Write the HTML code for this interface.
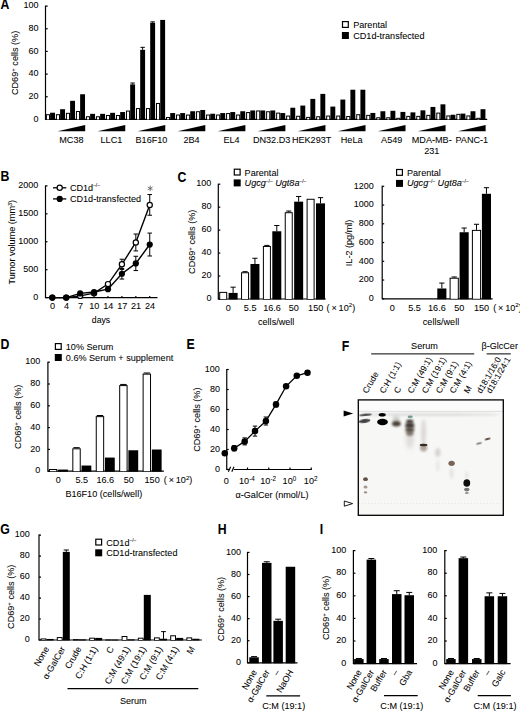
<!DOCTYPE html>
<html><head><meta charset="utf-8"><style>
html,body{margin:0;padding:0;background:#fff;width:520px;height:711px;overflow:hidden}
svg{display:block}
text{font-family:"Liberation Sans",sans-serif;fill:#000;stroke:#000;stroke-width:0.06px}
</style></head><body>
<svg width="520" height="711" viewBox="0 0 520 711">
<rect width="520" height="711" fill="#fff"/>
<text x="0.6" y="9.3" font-size="13.2" font-weight="bold" transform="translate(0.6 9.3) scale(0.93 1.1) translate(-0.6 -9.3)">A</text>
<line x1="45.5" y1="119.4" x2="487.2" y2="119.4" stroke="#000" stroke-width="1.2"/>
<line x1="45.5" y1="5.6" x2="45.5" y2="119.9" stroke="#000" stroke-width="1.2"/>
<line x1="45.5" y1="119.4" x2="47.7" y2="119.4" stroke="#000" stroke-width="1.2"/>
<text x="38.5" y="121.67" font-size="9" text-anchor="end">0</text>
<line x1="45.5" y1="96.74" x2="47.7" y2="96.74" stroke="#000" stroke-width="1.2"/>
<text x="38.5" y="99.01" font-size="9" text-anchor="end">20</text>
<line x1="45.5" y1="74.08" x2="47.7" y2="74.08" stroke="#000" stroke-width="1.2"/>
<text x="38.5" y="76.35" font-size="9" text-anchor="end">40</text>
<line x1="45.5" y1="51.42" x2="47.7" y2="51.42" stroke="#000" stroke-width="1.2"/>
<text x="38.5" y="53.69" font-size="9" text-anchor="end">60</text>
<line x1="45.5" y1="28.76" x2="47.7" y2="28.76" stroke="#000" stroke-width="1.2"/>
<text x="38.5" y="31.03" font-size="9" text-anchor="end">80</text>
<line x1="45.5" y1="6.1" x2="47.7" y2="6.1" stroke="#000" stroke-width="1.2"/>
<text x="38.5" y="8.37" font-size="9" text-anchor="end">100</text>
<rect x="45.9" y="114.19" width="4.1" height="5.71" fill="#000"/>
<rect x="46.9" y="115.19" width="2.1" height="4.21" fill="#fff"/>
<rect x="50.1" y="112.72" width="4.9" height="7.18" fill="#000"/>
<rect x="55.91" y="114.19" width="4.1" height="5.71" fill="#000"/>
<rect x="56.91" y="115.19" width="2.1" height="4.21" fill="#fff"/>
<rect x="60.11" y="109.2" width="4.9" height="10.7" fill="#000"/>
<rect x="65.92" y="112.83" width="4.1" height="7.07" fill="#000"/>
<rect x="66.92" y="113.83" width="2.1" height="5.57" fill="#fff"/>
<rect x="70.12" y="100.82" width="4.9" height="19.08" fill="#000"/>
<rect x="75.93" y="111.02" width="4.1" height="8.88" fill="#000"/>
<rect x="76.93" y="112.02" width="2.1" height="7.38" fill="#fff"/>
<rect x="80.13" y="94.25" width="4.9" height="25.65" fill="#000"/>
<polygon points="57.5,131.3 85.2,125 85.2,131.3" fill="#000"/>
<text x="71.4" y="143.4" font-size="9.1" text-anchor="middle">MC38</text>
<rect x="85.94" y="116.23" width="4.1" height="3.67" fill="#000"/>
<rect x="86.94" y="117.23" width="2.1" height="2.17" fill="#fff"/>
<rect x="90.14" y="113.85" width="4.9" height="6.05" fill="#000"/>
<rect x="95.95" y="116.23" width="4.1" height="3.67" fill="#000"/>
<rect x="96.95" y="117.23" width="2.1" height="2.17" fill="#fff"/>
<rect x="100.15" y="113.85" width="4.9" height="6.05" fill="#000"/>
<rect x="105.96" y="114.98" width="4.1" height="4.92" fill="#000"/>
<rect x="106.96" y="115.98" width="2.1" height="3.42" fill="#fff"/>
<rect x="110.16" y="112.83" width="4.9" height="7.07" fill="#000"/>
<rect x="115.97" y="114.98" width="4.1" height="4.92" fill="#000"/>
<rect x="116.97" y="115.98" width="2.1" height="3.42" fill="#fff"/>
<rect x="120.17" y="112.04" width="4.9" height="7.86" fill="#000"/>
<polygon points="97.54,131.3 125.24,125 125.24,131.3" fill="#000"/>
<text x="111.44" y="143.4" font-size="9.1" text-anchor="middle">LLC1</text>
<rect x="125.98" y="110.56" width="4.1" height="9.34" fill="#000"/>
<rect x="126.98" y="111.56" width="2.1" height="7.84" fill="#fff"/>
<rect x="130.18" y="84.39" width="4.9" height="35.51" fill="#000"/>
<line x1="132.63" y1="83.03" x2="132.63" y2="84.39" stroke="#000" stroke-width="1"/>
<line x1="130.43" y1="83.03" x2="134.83" y2="83.03" stroke="#000" stroke-width="1"/>
<rect x="135.99" y="108.07" width="4.1" height="11.83" fill="#000"/>
<rect x="136.99" y="109.07" width="2.1" height="10.33" fill="#fff"/>
<rect x="140.19" y="49.83" width="4.9" height="70.07" fill="#000"/>
<line x1="142.64" y1="47.34" x2="142.64" y2="49.83" stroke="#000" stroke-width="1"/>
<line x1="140.44" y1="47.34" x2="144.84" y2="47.34" stroke="#000" stroke-width="1"/>
<rect x="146" y="108.07" width="4.1" height="11.83" fill="#000"/>
<rect x="147" y="109.07" width="2.1" height="10.33" fill="#fff"/>
<rect x="150.2" y="22.76" width="4.9" height="97.14" fill="#000"/>
<line x1="152.65" y1="21.85" x2="152.65" y2="22.76" stroke="#000" stroke-width="1"/>
<line x1="150.45" y1="21.85" x2="154.85" y2="21.85" stroke="#000" stroke-width="1"/>
<rect x="156.01" y="102.97" width="4.1" height="16.93" fill="#000"/>
<rect x="157.01" y="103.97" width="2.1" height="15.43" fill="#fff"/>
<rect x="160.21" y="19.92" width="4.9" height="99.98" fill="#000"/>
<polygon points="137.58,131.3 165.28,125 165.28,131.3" fill="#000"/>
<text x="151.48" y="143.4" font-size="9.1" text-anchor="middle">B16F10</text>
<rect x="166.02" y="117.02" width="4.1" height="2.88" fill="#000"/>
<rect x="167.02" y="118.02" width="2.1" height="1.38" fill="#fff"/>
<rect x="170.22" y="113.06" width="4.9" height="6.84" fill="#000"/>
<rect x="176.03" y="114.53" width="4.1" height="5.37" fill="#000"/>
<rect x="177.03" y="115.53" width="2.1" height="3.87" fill="#fff"/>
<rect x="180.23" y="113.06" width="4.9" height="6.84" fill="#000"/>
<rect x="186.04" y="114.53" width="4.1" height="5.37" fill="#000"/>
<rect x="187.04" y="115.53" width="2.1" height="3.87" fill="#fff"/>
<rect x="190.24" y="111.24" width="4.9" height="8.66" fill="#000"/>
<rect x="196.05" y="111.24" width="4.1" height="8.66" fill="#000"/>
<rect x="197.05" y="112.24" width="2.1" height="7.16" fill="#fff"/>
<rect x="200.25" y="110" width="4.9" height="9.9" fill="#000"/>
<polygon points="177.62,131.3 205.32,125 205.32,131.3" fill="#000"/>
<text x="191.52" y="143.4" font-size="9.1" text-anchor="middle">2B4</text>
<rect x="206.06" y="114.53" width="4.1" height="5.37" fill="#000"/>
<rect x="207.06" y="115.53" width="2.1" height="3.87" fill="#fff"/>
<rect x="210.26" y="113.73" width="4.9" height="6.17" fill="#000"/>
<rect x="216.07" y="114.53" width="4.1" height="5.37" fill="#000"/>
<rect x="217.07" y="115.53" width="2.1" height="3.87" fill="#fff"/>
<rect x="220.27" y="113.06" width="4.9" height="6.84" fill="#000"/>
<rect x="226.08" y="113.06" width="4.1" height="6.84" fill="#000"/>
<rect x="227.08" y="114.06" width="2.1" height="5.34" fill="#fff"/>
<rect x="230.28" y="112.04" width="4.9" height="7.86" fill="#000"/>
<rect x="236.09" y="114.53" width="4.1" height="5.37" fill="#000"/>
<rect x="237.09" y="115.53" width="2.1" height="3.87" fill="#fff"/>
<rect x="240.29" y="111.24" width="4.9" height="8.66" fill="#000"/>
<polygon points="217.66,131.3 245.36,125 245.36,131.3" fill="#000"/>
<text x="231.56" y="143.4" font-size="9.1" text-anchor="middle">EL4</text>
<rect x="246.1" y="112.04" width="4.1" height="7.86" fill="#000"/>
<rect x="247.1" y="113.04" width="2.1" height="6.36" fill="#fff"/>
<rect x="250.3" y="110.45" width="4.9" height="9.45" fill="#000"/>
<rect x="256.11" y="110.45" width="4.1" height="9.45" fill="#000"/>
<rect x="257.11" y="111.45" width="2.1" height="7.95" fill="#fff"/>
<rect x="260.31" y="110.45" width="4.9" height="9.45" fill="#000"/>
<rect x="266.12" y="111.24" width="4.1" height="8.66" fill="#000"/>
<rect x="267.12" y="112.24" width="2.1" height="7.16" fill="#fff"/>
<rect x="270.32" y="110.45" width="4.9" height="9.45" fill="#000"/>
<rect x="276.13" y="112.6" width="4.1" height="7.3" fill="#000"/>
<rect x="277.13" y="113.6" width="2.1" height="5.8" fill="#fff"/>
<rect x="280.33" y="113.06" width="4.9" height="6.84" fill="#000"/>
<polygon points="257.7,131.3 285.4,125 285.4,131.3" fill="#000"/>
<text x="271.6" y="143.4" font-size="9.1" text-anchor="middle">DN32.D3</text>
<rect x="286.14" y="115.55" width="4.1" height="4.35" fill="#000"/>
<rect x="287.14" y="116.55" width="2.1" height="2.85" fill="#fff"/>
<rect x="290.34" y="107.73" width="4.9" height="12.17" fill="#000"/>
<rect x="296.15" y="115.77" width="4.1" height="4.13" fill="#000"/>
<rect x="297.15" y="116.77" width="2.1" height="2.63" fill="#fff"/>
<rect x="300.35" y="105.58" width="4.9" height="14.32" fill="#000"/>
<rect x="306.16" y="116.91" width="4.1" height="2.99" fill="#000"/>
<rect x="307.16" y="117.91" width="2.1" height="1.49" fill="#fff"/>
<rect x="310.36" y="98.89" width="4.9" height="21.01" fill="#000"/>
<rect x="316.17" y="116.23" width="4.1" height="3.67" fill="#000"/>
<rect x="317.17" y="117.23" width="2.1" height="2.17" fill="#fff"/>
<rect x="320.37" y="93.91" width="4.9" height="25.99" fill="#000"/>
<polygon points="297.74,131.3 325.44,125 325.44,131.3" fill="#000"/>
<text x="311.64" y="143.4" font-size="9.1" text-anchor="middle">HEK293T</text>
<rect x="326.18" y="115.55" width="4.1" height="4.35" fill="#000"/>
<rect x="327.18" y="116.55" width="2.1" height="2.85" fill="#fff"/>
<rect x="330.38" y="106.6" width="4.9" height="13.3" fill="#000"/>
<rect x="336.19" y="115.55" width="4.1" height="4.35" fill="#000"/>
<rect x="337.19" y="116.55" width="2.1" height="2.85" fill="#fff"/>
<rect x="340.39" y="99.57" width="4.9" height="20.33" fill="#000"/>
<rect x="346.2" y="116" width="4.1" height="3.9" fill="#000"/>
<rect x="347.2" y="117" width="2.1" height="2.4" fill="#fff"/>
<rect x="350.4" y="89.72" width="4.9" height="30.18" fill="#000"/>
<rect x="356.21" y="114.19" width="4.1" height="5.71" fill="#000"/>
<rect x="357.21" y="115.19" width="2.1" height="4.21" fill="#fff"/>
<rect x="360.41" y="89.72" width="4.9" height="30.18" fill="#000"/>
<polygon points="337.78,131.3 365.48,125 365.48,131.3" fill="#000"/>
<text x="351.68" y="143.4" font-size="9.1" text-anchor="middle">HeLa</text>
<rect x="366.22" y="114.87" width="4.1" height="5.03" fill="#000"/>
<rect x="367.22" y="115.87" width="2.1" height="3.53" fill="#fff"/>
<rect x="370.42" y="112.94" width="4.9" height="6.96" fill="#000"/>
<rect x="376.23" y="117.25" width="4.1" height="2.65" fill="#000"/>
<rect x="377.23" y="118.25" width="2.1" height="1.15" fill="#fff"/>
<rect x="380.43" y="111.24" width="4.9" height="8.66" fill="#000"/>
<rect x="386.24" y="117.25" width="4.1" height="2.65" fill="#000"/>
<rect x="387.24" y="118.25" width="2.1" height="1.15" fill="#fff"/>
<rect x="390.44" y="110.79" width="4.9" height="9.11" fill="#000"/>
<rect x="396.25" y="117.81" width="4.1" height="2.09" fill="#000"/>
<rect x="397.25" y="118.81" width="2.1" height="0.59" fill="#fff"/>
<rect x="400.45" y="111.92" width="4.9" height="7.98" fill="#000"/>
<polygon points="377.82,131.3 405.52,125 405.52,131.3" fill="#000"/>
<text x="391.72" y="143.4" font-size="9.1" text-anchor="middle">A549</text>
<rect x="406.26" y="115.89" width="4.1" height="4.01" fill="#000"/>
<rect x="407.26" y="116.89" width="2.1" height="2.51" fill="#fff"/>
<rect x="410.46" y="112.38" width="4.9" height="7.52" fill="#000"/>
<rect x="416.27" y="115.89" width="4.1" height="4.01" fill="#000"/>
<rect x="417.27" y="116.89" width="2.1" height="2.51" fill="#fff"/>
<rect x="420.47" y="110.34" width="4.9" height="9.56" fill="#000"/>
<rect x="426.28" y="114.87" width="4.1" height="5.03" fill="#000"/>
<rect x="427.28" y="115.87" width="2.1" height="3.53" fill="#fff"/>
<rect x="430.48" y="106.94" width="4.9" height="12.96" fill="#000"/>
<rect x="436.29" y="112.6" width="4.1" height="7.3" fill="#000"/>
<rect x="437.29" y="113.6" width="2.1" height="5.8" fill="#fff"/>
<rect x="440.49" y="104.33" width="4.9" height="15.57" fill="#000"/>
<polygon points="417.86,131.3 445.56,125 445.56,131.3" fill="#000"/>
<text x="431.76" y="143.4" font-size="9.1" text-anchor="middle">MDA-MB-</text>
<text x="431.76" y="153.6" font-size="9.1" text-anchor="middle">231</text>
<rect x="446.3" y="115.43" width="4.1" height="4.47" fill="#000"/>
<rect x="447.3" y="116.43" width="2.1" height="2.97" fill="#fff"/>
<rect x="450.5" y="114.75" width="4.9" height="5.15" fill="#000"/>
<rect x="456.31" y="113.85" width="4.1" height="6.05" fill="#000"/>
<rect x="457.31" y="114.85" width="2.1" height="4.55" fill="#fff"/>
<rect x="460.51" y="113.62" width="4.9" height="6.28" fill="#000"/>
<rect x="466.32" y="115.43" width="4.1" height="4.47" fill="#000"/>
<rect x="467.32" y="116.43" width="2.1" height="2.97" fill="#fff"/>
<rect x="470.52" y="111.24" width="4.9" height="8.66" fill="#000"/>
<rect x="476.33" y="117.81" width="4.1" height="2.09" fill="#000"/>
<rect x="477.33" y="118.81" width="2.1" height="0.59" fill="#fff"/>
<rect x="480.53" y="109.2" width="4.9" height="10.7" fill="#000"/>
<polygon points="457.9,131.3 485.6,125 485.6,131.3" fill="#000"/>
<text x="471.8" y="143.4" font-size="9.1" text-anchor="middle">PANC-1</text>
<rect x="341.9" y="21" width="7" height="7" fill="#000"/>
<rect x="343.1" y="22.2" width="4.6" height="4.6" fill="#fff"/>
<text x="353.2" y="28" font-size="9.1">Parental</text>
<rect x="341.9" y="32" width="7" height="7" fill="#000"/>
<text x="353.2" y="38.9" font-size="9.1">CD1d-transfected</text>
<text x="18" y="62.9" font-size="9.1" text-anchor="middle" transform="rotate(-90 18 62.9)">CD69<tspan font-size="6.2" dy="-3.2">+</tspan><tspan dy="3.2"> cells (%)</tspan></text>
<text x="0.5" y="181.2" font-size="13.2" font-weight="bold" transform="translate(0.5 181.2) scale(0.93 1.1) translate(-0.5 -181.2)">B</text>
<line x1="45.5" y1="297.6" x2="157.5" y2="297.6" stroke="#000" stroke-width="1.2"/>
<line x1="45.5" y1="185.4" x2="45.5" y2="298.1" stroke="#000" stroke-width="1.2"/>
<line x1="45.5" y1="297.6" x2="47.5" y2="297.6" stroke="#000" stroke-width="1.2"/>
<text x="38.3" y="299.87" font-size="9" text-anchor="end">0</text>
<line x1="45.5" y1="269.68" x2="47.5" y2="269.68" stroke="#000" stroke-width="1.2"/>
<text x="38.3" y="271.95" font-size="9" text-anchor="end">500</text>
<line x1="45.5" y1="241.75" x2="47.5" y2="241.75" stroke="#000" stroke-width="1.2"/>
<text x="38.3" y="244.02" font-size="9" text-anchor="end">1000</text>
<line x1="45.5" y1="213.82" x2="47.5" y2="213.82" stroke="#000" stroke-width="1.2"/>
<text x="38.3" y="216.09" font-size="9" text-anchor="end">1500</text>
<line x1="45.5" y1="185.9" x2="47.5" y2="185.9" stroke="#000" stroke-width="1.2"/>
<text x="38.3" y="188.17" font-size="9" text-anchor="end">2000</text>
<text x="52.6" y="309.3" font-size="9.1" text-anchor="middle">0</text>
<line x1="52.3" y1="297.6" x2="52.3" y2="296" stroke="#000" stroke-width="1.2"/>
<text x="66.52" y="309.3" font-size="9.1" text-anchor="middle">4</text>
<line x1="66.22" y1="297.6" x2="66.22" y2="296" stroke="#000" stroke-width="1.2"/>
<text x="80.44" y="309.3" font-size="9.1" text-anchor="middle">7</text>
<line x1="80.14" y1="297.6" x2="80.14" y2="296" stroke="#000" stroke-width="1.2"/>
<text x="94.36" y="309.3" font-size="9.1" text-anchor="middle">10</text>
<line x1="94.06" y1="297.6" x2="94.06" y2="296" stroke="#000" stroke-width="1.2"/>
<text x="108.28" y="309.3" font-size="9.1" text-anchor="middle">14</text>
<line x1="107.98" y1="297.6" x2="107.98" y2="296" stroke="#000" stroke-width="1.2"/>
<text x="122.2" y="309.3" font-size="9.1" text-anchor="middle">17</text>
<line x1="121.9" y1="297.6" x2="121.9" y2="296" stroke="#000" stroke-width="1.2"/>
<text x="136.12" y="309.3" font-size="9.1" text-anchor="middle">21</text>
<line x1="135.82" y1="297.6" x2="135.82" y2="296" stroke="#000" stroke-width="1.2"/>
<text x="150.04" y="309.3" font-size="9.1" text-anchor="middle">24</text>
<line x1="149.74" y1="297.6" x2="149.74" y2="296" stroke="#000" stroke-width="1.2"/>
<text x="101" y="322.5" font-size="8.7" text-anchor="middle">days</text>
<line x1="121.9" y1="259.23" x2="121.9" y2="269.4" stroke="#000" stroke-width="1"/>
<line x1="119.6" y1="259.23" x2="124.2" y2="259.23" stroke="#000" stroke-width="1"/>
<line x1="119.6" y1="269.4" x2="124.2" y2="269.4" stroke="#000" stroke-width="1"/>
<line x1="135.82" y1="234.04" x2="135.82" y2="250.91" stroke="#000" stroke-width="1"/>
<line x1="133.52" y1="234.04" x2="138.12" y2="234.04" stroke="#000" stroke-width="1"/>
<line x1="133.52" y1="250.91" x2="138.12" y2="250.91" stroke="#000" stroke-width="1"/>
<line x1="149.74" y1="194.56" x2="149.74" y2="215.22" stroke="#000" stroke-width="1"/>
<line x1="147.44" y1="194.56" x2="152.04" y2="194.56" stroke="#000" stroke-width="1"/>
<line x1="147.44" y1="215.22" x2="152.04" y2="215.22" stroke="#000" stroke-width="1"/>
<line x1="107.98" y1="282.41" x2="107.98" y2="285.76" stroke="#000" stroke-width="1"/>
<line x1="105.68" y1="282.41" x2="110.28" y2="282.41" stroke="#000" stroke-width="1"/>
<line x1="105.68" y1="285.76" x2="110.28" y2="285.76" stroke="#000" stroke-width="1"/>
<line x1="121.9" y1="268.45" x2="121.9" y2="279.06" stroke="#000" stroke-width="1"/>
<line x1="119.6" y1="268.45" x2="124.2" y2="268.45" stroke="#000" stroke-width="1"/>
<line x1="119.6" y1="279.06" x2="124.2" y2="279.06" stroke="#000" stroke-width="1"/>
<line x1="135.82" y1="256.27" x2="135.82" y2="270.57" stroke="#000" stroke-width="1"/>
<line x1="133.52" y1="256.27" x2="138.12" y2="256.27" stroke="#000" stroke-width="1"/>
<line x1="133.52" y1="270.57" x2="138.12" y2="270.57" stroke="#000" stroke-width="1"/>
<line x1="149.74" y1="233.09" x2="149.74" y2="255.99" stroke="#000" stroke-width="1"/>
<line x1="147.44" y1="233.09" x2="152.04" y2="233.09" stroke="#000" stroke-width="1"/>
<line x1="147.44" y1="255.99" x2="152.04" y2="255.99" stroke="#000" stroke-width="1"/>
<polyline points="52.3,297.6 66.22,297.6 80.14,295.92 94.06,293.13 107.98,284.08 121.9,264.31 135.82,242.48 149.74,204.89" fill="none" stroke="#000" stroke-width="1.4"/>
<polyline points="52.3,297.6 66.22,297.6 80.14,293.41 94.06,292.02 107.98,289.22 121.9,273.75 135.82,263.42 149.74,244.54" fill="none" stroke="#000" stroke-width="1.4"/>
<circle cx="52.3" cy="297.6" r="2.6" fill="#fff" stroke="#000" stroke-width="1.2"/>
<circle cx="66.22" cy="297.6" r="2.6" fill="#fff" stroke="#000" stroke-width="1.2"/>
<circle cx="80.14" cy="295.92" r="2.6" fill="#fff" stroke="#000" stroke-width="1.2"/>
<circle cx="94.06" cy="293.13" r="2.6" fill="#fff" stroke="#000" stroke-width="1.2"/>
<circle cx="107.98" cy="284.08" r="2.6" fill="#fff" stroke="#000" stroke-width="1.2"/>
<circle cx="121.9" cy="264.31" r="2.6" fill="#fff" stroke="#000" stroke-width="1.2"/>
<circle cx="135.82" cy="242.48" r="2.6" fill="#fff" stroke="#000" stroke-width="1.2"/>
<circle cx="149.74" cy="204.89" r="2.6" fill="#fff" stroke="#000" stroke-width="1.2"/>
<circle cx="52.3" cy="297.6" r="3.1" fill="#000"/>
<circle cx="66.22" cy="297.6" r="3.1" fill="#000"/>
<circle cx="80.14" cy="293.41" r="3.1" fill="#000"/>
<circle cx="94.06" cy="292.02" r="3.1" fill="#000"/>
<circle cx="107.98" cy="289.22" r="3.1" fill="#000"/>
<circle cx="121.9" cy="273.75" r="3.1" fill="#000"/>
<circle cx="135.82" cy="263.42" r="3.1" fill="#000"/>
<circle cx="149.74" cy="244.54" r="3.1" fill="#000"/>
<line x1="150.2" y1="185.6" x2="150.2" y2="191.2" stroke="#555" stroke-width="0.8"/>
<line x1="147.78" y1="187" x2="152.62" y2="189.8" stroke="#555" stroke-width="0.8"/>
<line x1="152.62" y1="187" x2="147.78" y2="189.8" stroke="#555" stroke-width="0.8"/>
<line x1="53" y1="187.8" x2="66.3" y2="187.8" stroke="#000" stroke-width="1.3"/>
<circle cx="59.7" cy="187.8" r="2.6" fill="#fff" stroke="#000" stroke-width="1.2"/>
<text x="69.9" y="190.5" font-size="9.1">CD1d<tspan font-size="4.9" dy="-3.6">–/–</tspan><tspan dy="3.6"> </tspan></text>
<line x1="53" y1="198.9" x2="66.3" y2="198.9" stroke="#000" stroke-width="1.3"/>
<circle cx="59.7" cy="198.9" r="3.1" fill="#000"/>
<text x="69.9" y="201.9" font-size="9.1">CD1d-transfected</text>
<text x="14.7" y="242.2" font-size="9.1" text-anchor="middle" transform="rotate(-90 14.7 242.2)">Tumor volume (mm<tspan font-size="5.5" dy="-3">3</tspan><tspan dy="3">)</tspan></text>
<text x="177.5" y="181.7" font-size="13.2" font-weight="bold" transform="translate(177.5 181.7) scale(0.93 1.1) translate(-177.5 -181.7)">C</text>
<line x1="218.3" y1="299" x2="325.8" y2="299" stroke="#000" stroke-width="1.2"/>
<line x1="218.3" y1="183.7" x2="218.3" y2="299.5" stroke="#000" stroke-width="1.2"/>
<line x1="218.3" y1="299" x2="220.3" y2="299" stroke="#000" stroke-width="1.2"/>
<text x="211.4" y="301.27" font-size="9" text-anchor="end">0</text>
<line x1="218.3" y1="276.04" x2="220.3" y2="276.04" stroke="#000" stroke-width="1.2"/>
<text x="211.4" y="278.31" font-size="9" text-anchor="end">20</text>
<line x1="218.3" y1="253.08" x2="220.3" y2="253.08" stroke="#000" stroke-width="1.2"/>
<text x="211.4" y="255.35" font-size="9" text-anchor="end">40</text>
<line x1="218.3" y1="230.12" x2="220.3" y2="230.12" stroke="#000" stroke-width="1.2"/>
<text x="211.4" y="232.39" font-size="9" text-anchor="end">60</text>
<line x1="218.3" y1="207.16" x2="220.3" y2="207.16" stroke="#000" stroke-width="1.2"/>
<text x="211.4" y="209.43" font-size="9" text-anchor="end">80</text>
<line x1="218.3" y1="184.2" x2="220.3" y2="184.2" stroke="#000" stroke-width="1.2"/>
<text x="211.4" y="186.47" font-size="9" text-anchor="end">100</text>
<rect x="219.2" y="291.88" width="8" height="7.62" fill="#000"/>
<rect x="220.2" y="292.88" width="6" height="6.12" fill="#fff"/>
<rect x="228.6" y="292.92" width="9" height="6.58" fill="#000"/>
<line x1="233.1" y1="287.18" x2="233.1" y2="292.92" stroke="#000" stroke-width="1"/>
<line x1="230.5" y1="287.18" x2="235.7" y2="287.18" stroke="#000" stroke-width="1"/>
<text x="228.3" y="310.8" font-size="9.1" text-anchor="middle">0</text>
<rect x="241.05" y="272.25" width="8" height="27.25" fill="#000"/>
<rect x="242.05" y="273.25" width="6" height="25.75" fill="#fff"/>
<rect x="250.45" y="263.99" width="9" height="35.51" fill="#000"/>
<line x1="254.95" y1="258.25" x2="254.95" y2="263.99" stroke="#000" stroke-width="1"/>
<line x1="252.35" y1="258.25" x2="257.55" y2="258.25" stroke="#000" stroke-width="1"/>
<line x1="245.05" y1="271.68" x2="245.05" y2="272.25" stroke="#000" stroke-width="1"/>
<line x1="242.45" y1="271.68" x2="247.65" y2="271.68" stroke="#000" stroke-width="1"/>
<text x="250.15" y="310.8" font-size="9.1" text-anchor="middle">5.5</text>
<rect x="262.9" y="245.96" width="8" height="53.54" fill="#000"/>
<rect x="263.9" y="246.96" width="6" height="52.04" fill="#fff"/>
<rect x="272.3" y="231.27" width="9" height="68.23" fill="#000"/>
<line x1="276.8" y1="225.53" x2="276.8" y2="231.27" stroke="#000" stroke-width="1"/>
<line x1="274.2" y1="225.53" x2="279.4" y2="225.53" stroke="#000" stroke-width="1"/>
<line x1="266.9" y1="245.39" x2="266.9" y2="245.96" stroke="#000" stroke-width="1"/>
<line x1="264.3" y1="245.39" x2="269.5" y2="245.39" stroke="#000" stroke-width="1"/>
<text x="272" y="310.8" font-size="9.1" text-anchor="middle">16.6</text>
<rect x="284.75" y="212.21" width="8" height="87.29" fill="#000"/>
<rect x="285.75" y="213.21" width="6" height="85.79" fill="#fff"/>
<rect x="294.15" y="201.65" width="9" height="97.85" fill="#000"/>
<line x1="298.65" y1="196.48" x2="298.65" y2="201.65" stroke="#000" stroke-width="1"/>
<line x1="296.05" y1="196.48" x2="301.25" y2="196.48" stroke="#000" stroke-width="1"/>
<line x1="288.75" y1="211.06" x2="288.75" y2="212.21" stroke="#000" stroke-width="1"/>
<line x1="286.15" y1="211.06" x2="291.35" y2="211.06" stroke="#000" stroke-width="1"/>
<text x="293.85" y="310.8" font-size="9.1" text-anchor="middle">50</text>
<rect x="306.6" y="198.78" width="8" height="100.72" fill="#000"/>
<rect x="307.6" y="199.78" width="6" height="99.22" fill="#fff"/>
<rect x="316" y="203.37" width="9" height="96.13" fill="#000"/>
<line x1="320.5" y1="197.63" x2="320.5" y2="203.37" stroke="#000" stroke-width="1"/>
<line x1="317.9" y1="197.63" x2="323.1" y2="197.63" stroke="#000" stroke-width="1"/>
<text x="315.7" y="310.8" font-size="9.1" text-anchor="middle">150</text>
<text x="326.6" y="310.8" font-size="9.1">( × 10<tspan font-size="6.2" dy="-3.4">2</tspan><tspan dy="3.4">)</tspan></text>
<text x="276.2" y="324.6" font-size="9.1" text-anchor="middle">cells/well</text>
<rect x="233.7" y="168.6" width="7" height="7" fill="#000"/>
<rect x="234.9" y="169.8" width="4.6" height="4.6" fill="#fff"/>
<text x="244.6" y="175.6" font-size="9.1">Parental</text>
<rect x="233.7" y="179.4" width="7" height="7" fill="#000"/>
<text x="244.6" y="186.3" font-size="9.1"><tspan font-style="italic">Ugcg</tspan><tspan font-size="4.9" dy="-3.6">–/–</tspan><tspan dy="3.6"> </tspan><tspan font-style="italic">Ugt8a</tspan><tspan font-size="4.9" dy="-3.6">–/–</tspan></text>
<text x="195.5" y="241.8" font-size="9.1" text-anchor="middle" transform="rotate(-90 195.5 241.8)">CD69<tspan font-size="6.2" dy="-3.2">+</tspan><tspan dy="3.2"> cells (%)</tspan></text>
<line x1="382.2" y1="298.8" x2="492.6" y2="298.8" stroke="#000" stroke-width="1.2"/>
<line x1="382.2" y1="185.8" x2="382.2" y2="299.3" stroke="#000" stroke-width="1.2"/>
<line x1="382.2" y1="298.8" x2="384.2" y2="298.8" stroke="#000" stroke-width="1.2"/>
<text x="373.7" y="301.07" font-size="9" text-anchor="end">0</text>
<line x1="382.2" y1="280.05" x2="384.2" y2="280.05" stroke="#000" stroke-width="1.2"/>
<text x="373.7" y="282.32" font-size="9" text-anchor="end">200</text>
<line x1="382.2" y1="261.3" x2="384.2" y2="261.3" stroke="#000" stroke-width="1.2"/>
<text x="373.7" y="263.57" font-size="9" text-anchor="end">400</text>
<line x1="382.2" y1="242.55" x2="384.2" y2="242.55" stroke="#000" stroke-width="1.2"/>
<text x="373.7" y="244.82" font-size="9" text-anchor="end">600</text>
<line x1="382.2" y1="223.8" x2="384.2" y2="223.8" stroke="#000" stroke-width="1.2"/>
<text x="373.7" y="226.07" font-size="9" text-anchor="end">800</text>
<line x1="382.2" y1="205.05" x2="384.2" y2="205.05" stroke="#000" stroke-width="1.2"/>
<text x="373.7" y="207.32" font-size="9" text-anchor="end">1000</text>
<line x1="382.2" y1="186.3" x2="384.2" y2="186.3" stroke="#000" stroke-width="1.2"/>
<text x="373.7" y="188.57" font-size="9" text-anchor="end">1200</text>
<text x="392.3" y="310.8" font-size="9.1" text-anchor="middle">0</text>
<text x="414.6" y="310.8" font-size="9.1" text-anchor="middle">5.5</text>
<rect x="437.3" y="288.49" width="9.1" height="10.81" fill="#000"/>
<line x1="441.85" y1="283.05" x2="441.85" y2="288.49" stroke="#000" stroke-width="1"/>
<line x1="439.25" y1="283.05" x2="444.45" y2="283.05" stroke="#000" stroke-width="1"/>
<text x="436.9" y="310.8" font-size="9.1" text-anchor="middle">16.6</text>
<rect x="449.6" y="277.71" width="9.2" height="21.59" fill="#000"/>
<rect x="450.6" y="278.71" width="7.2" height="20.09" fill="#fff"/>
<rect x="459.6" y="232.24" width="9.1" height="67.06" fill="#000"/>
<line x1="464.15" y1="228.02" x2="464.15" y2="232.24" stroke="#000" stroke-width="1"/>
<line x1="461.55" y1="228.02" x2="466.75" y2="228.02" stroke="#000" stroke-width="1"/>
<line x1="454.2" y1="276.96" x2="454.2" y2="277.71" stroke="#000" stroke-width="1"/>
<line x1="451.6" y1="276.96" x2="456.8" y2="276.96" stroke="#000" stroke-width="1"/>
<text x="459.2" y="310.8" font-size="9.1" text-anchor="middle">50</text>
<rect x="471.9" y="229.89" width="9.2" height="69.41" fill="#000"/>
<rect x="472.9" y="230.89" width="7.2" height="67.91" fill="#fff"/>
<rect x="481.9" y="193.8" width="9.1" height="105.5" fill="#000"/>
<line x1="486.45" y1="187.71" x2="486.45" y2="193.8" stroke="#000" stroke-width="1"/>
<line x1="483.85" y1="187.71" x2="489.05" y2="187.71" stroke="#000" stroke-width="1"/>
<line x1="476.5" y1="224.27" x2="476.5" y2="229.89" stroke="#000" stroke-width="1"/>
<line x1="473.9" y1="224.27" x2="479.1" y2="224.27" stroke="#000" stroke-width="1"/>
<text x="481.5" y="310.8" font-size="9.1" text-anchor="middle">150</text>
<text x="493.2" y="310.8" font-size="9.1">( × 10<tspan font-size="6.2" dy="-3.4">2</tspan><tspan dy="3.4">)</tspan></text>
<text x="441" y="324.6" font-size="9.1" text-anchor="middle">cells/well</text>
<rect x="396" y="168.9" width="7" height="7" fill="#000"/>
<rect x="397.2" y="170.1" width="4.6" height="4.6" fill="#fff"/>
<text x="407" y="175.8" font-size="9.1">Parental</text>
<rect x="396" y="179.9" width="7" height="7" fill="#000"/>
<text x="407" y="186.4" font-size="9.1"><tspan font-style="italic">Ugcg</tspan><tspan font-size="4.9" dy="-3.6">–/–</tspan><tspan dy="3.6"> </tspan><tspan font-style="italic">Ugt8a</tspan><tspan font-size="4.9" dy="-3.6">–/–</tspan></text>
<text x="352.2" y="242.9" font-size="9.1" text-anchor="middle" transform="rotate(-90 352.2 242.9)">IL-2 (pg/ml)</text>
<text x="0.5" y="349.1" font-size="13.2" font-weight="bold" transform="translate(0.5 349.1) scale(0.93 1.1) translate(-0.5 -349.1)">D</text>
<line x1="47.9" y1="471.2" x2="163.9" y2="471.2" stroke="#000" stroke-width="1.2"/>
<line x1="47.9" y1="361.7" x2="47.9" y2="471.7" stroke="#000" stroke-width="1.2"/>
<line x1="47.9" y1="471.2" x2="49.9" y2="471.2" stroke="#000" stroke-width="1.2"/>
<text x="40.3" y="473.47" font-size="9" text-anchor="end">0</text>
<line x1="47.9" y1="449.4" x2="49.9" y2="449.4" stroke="#000" stroke-width="1.2"/>
<text x="40.3" y="451.67" font-size="9" text-anchor="end">20</text>
<line x1="47.9" y1="427.6" x2="49.9" y2="427.6" stroke="#000" stroke-width="1.2"/>
<text x="40.3" y="429.87" font-size="9" text-anchor="end">40</text>
<line x1="47.9" y1="405.8" x2="49.9" y2="405.8" stroke="#000" stroke-width="1.2"/>
<text x="40.3" y="408.07" font-size="9" text-anchor="end">60</text>
<line x1="47.9" y1="384" x2="49.9" y2="384" stroke="#000" stroke-width="1.2"/>
<text x="40.3" y="386.27" font-size="9" text-anchor="end">80</text>
<line x1="47.9" y1="362.2" x2="49.9" y2="362.2" stroke="#000" stroke-width="1.2"/>
<text x="40.3" y="364.47" font-size="9" text-anchor="end">100</text>
<rect x="48.9" y="469.02" width="8.4" height="2.68" fill="#000"/>
<rect x="49.9" y="470.02" width="6.4" height="1.18" fill="#fff"/>
<rect x="58.1" y="469.56" width="9.8" height="2.14" fill="#000"/>
<text x="58.4" y="483" font-size="9.1" text-anchor="middle">0</text>
<rect x="72.33" y="448.31" width="8.4" height="23.39" fill="#000"/>
<rect x="73.33" y="449.31" width="6.4" height="21.89" fill="#fff"/>
<rect x="81.53" y="465.53" width="9.8" height="6.17" fill="#000"/>
<line x1="76.53" y1="447.66" x2="76.53" y2="448.31" stroke="#000" stroke-width="1"/>
<line x1="73.33" y1="447.66" x2="79.73" y2="447.66" stroke="#000" stroke-width="1"/>
<text x="81.83" y="483" font-size="9.1" text-anchor="middle">5.5</text>
<rect x="95.76" y="416.15" width="8.4" height="55.55" fill="#000"/>
<rect x="96.76" y="417.15" width="6.4" height="54.05" fill="#fff"/>
<rect x="104.96" y="457.57" width="9.8" height="14.13" fill="#000"/>
<line x1="99.96" y1="415.5" x2="99.96" y2="416.15" stroke="#000" stroke-width="1"/>
<line x1="96.76" y1="415.5" x2="103.16" y2="415.5" stroke="#000" stroke-width="1"/>
<text x="105.26" y="483" font-size="9.1" text-anchor="middle">16.6</text>
<rect x="119.19" y="385.09" width="8.4" height="86.61" fill="#000"/>
<rect x="120.19" y="386.09" width="6.4" height="85.11" fill="#fff"/>
<rect x="128.39" y="450.27" width="9.8" height="21.43" fill="#000"/>
<line x1="123.39" y1="384.44" x2="123.39" y2="385.09" stroke="#000" stroke-width="1"/>
<line x1="120.19" y1="384.44" x2="126.59" y2="384.44" stroke="#000" stroke-width="1"/>
<text x="128.69" y="483" font-size="9.1" text-anchor="middle">50</text>
<rect x="142.62" y="373.64" width="8.4" height="98.06" fill="#000"/>
<rect x="143.62" y="374.64" width="6.4" height="96.56" fill="#fff"/>
<rect x="151.82" y="449.51" width="9.8" height="22.19" fill="#000"/>
<line x1="146.82" y1="372.99" x2="146.82" y2="373.64" stroke="#000" stroke-width="1"/>
<line x1="143.62" y1="372.99" x2="150.02" y2="372.99" stroke="#000" stroke-width="1"/>
<text x="152.12" y="483" font-size="9.1" text-anchor="middle">150</text>
<text x="163.8" y="483" font-size="9.1">( × 10<tspan font-size="6.2" dy="-3.4">2</tspan><tspan dy="3.4">)</tspan></text>
<text x="103.8" y="497.4" font-size="9.1" text-anchor="middle">B16F10 (cells/well)</text>
<rect x="54.8" y="343" width="7" height="7" fill="#000"/>
<rect x="56" y="344.2" width="4.6" height="4.6" fill="#fff"/>
<text x="65.8" y="350" font-size="9.1">10% Serum</text>
<rect x="54.8" y="354" width="7" height="7" fill="#000"/>
<text x="65.8" y="360.9" font-size="9.1">0.6% Serum + supplement</text>
<text x="20.75" y="416.8" font-size="9.1" text-anchor="middle" transform="rotate(-90 20.75 416.8)">CD69<tspan font-size="6.2" dy="-3.2">+</tspan><tspan dy="3.2"> cells (%)</tspan></text>
<text x="186.4" y="349.1" font-size="13.2" font-weight="bold" transform="translate(186.4 349.1) scale(0.93 1.1) translate(-186.4 -349.1)">E</text>
<line x1="226.75" y1="369" x2="226.75" y2="470" stroke="#000" stroke-width="1.2"/>
<line x1="226.75" y1="469.5" x2="228.75" y2="469.5" stroke="#000" stroke-width="1.2"/>
<text x="219.9" y="471.77" font-size="9" text-anchor="end">0</text>
<line x1="226.75" y1="449.5" x2="228.75" y2="449.5" stroke="#000" stroke-width="1.2"/>
<text x="219.9" y="451.77" font-size="9" text-anchor="end">20</text>
<line x1="226.75" y1="429.5" x2="228.75" y2="429.5" stroke="#000" stroke-width="1.2"/>
<text x="219.9" y="431.77" font-size="9" text-anchor="end">40</text>
<line x1="226.75" y1="409.5" x2="228.75" y2="409.5" stroke="#000" stroke-width="1.2"/>
<text x="219.9" y="411.77" font-size="9" text-anchor="end">60</text>
<line x1="226.75" y1="389.5" x2="228.75" y2="389.5" stroke="#000" stroke-width="1.2"/>
<text x="219.9" y="391.77" font-size="9" text-anchor="end">80</text>
<line x1="226.75" y1="369.5" x2="228.75" y2="369.5" stroke="#000" stroke-width="1.2"/>
<text x="219.9" y="371.77" font-size="9" text-anchor="end">100</text>
<line x1="226.75" y1="469.5" x2="229.6" y2="469.5" stroke="#000" stroke-width="1.2"/>
<line x1="233.8" y1="469.5" x2="311.8" y2="469.5" stroke="#000" stroke-width="1.2"/>
<line x1="228.4" y1="471.8" x2="230.6" y2="466.8" stroke="#000" stroke-width="1.1"/>
<line x1="231.8" y1="471.8" x2="234" y2="466.8" stroke="#000" stroke-width="1.1"/>
<line x1="247.5" y1="469.5" x2="247.5" y2="467.5" stroke="#000" stroke-width="1.2"/>
<line x1="268.75" y1="469.5" x2="268.75" y2="467.5" stroke="#000" stroke-width="1.2"/>
<line x1="290" y1="469.5" x2="290" y2="467.5" stroke="#000" stroke-width="1.2"/>
<line x1="311.25" y1="469.5" x2="311.25" y2="467.5" stroke="#000" stroke-width="1.2"/>
<line x1="224.8" y1="451.8" x2="224.8" y2="454.8" stroke="#000" stroke-width="1"/>
<line x1="222.6" y1="451.8" x2="227" y2="451.8" stroke="#000" stroke-width="1"/>
<line x1="222.6" y1="454.8" x2="227" y2="454.8" stroke="#000" stroke-width="1"/>
<line x1="234.2" y1="445.8" x2="234.2" y2="450.8" stroke="#000" stroke-width="1"/>
<line x1="232" y1="445.8" x2="236.4" y2="445.8" stroke="#000" stroke-width="1"/>
<line x1="232" y1="450.8" x2="236.4" y2="450.8" stroke="#000" stroke-width="1"/>
<line x1="244.7" y1="437.9" x2="244.7" y2="444.9" stroke="#000" stroke-width="1"/>
<line x1="242.5" y1="437.9" x2="246.9" y2="437.9" stroke="#000" stroke-width="1"/>
<line x1="242.5" y1="444.9" x2="246.9" y2="444.9" stroke="#000" stroke-width="1"/>
<line x1="255" y1="426.1" x2="255" y2="436.1" stroke="#000" stroke-width="1"/>
<line x1="252.8" y1="426.1" x2="257.2" y2="426.1" stroke="#000" stroke-width="1"/>
<line x1="252.8" y1="436.1" x2="257.2" y2="436.1" stroke="#000" stroke-width="1"/>
<line x1="265.9" y1="417" x2="265.9" y2="425" stroke="#000" stroke-width="1"/>
<line x1="263.7" y1="417" x2="268.1" y2="417" stroke="#000" stroke-width="1"/>
<line x1="263.7" y1="425" x2="268.1" y2="425" stroke="#000" stroke-width="1"/>
<line x1="276" y1="401.9" x2="276" y2="406.9" stroke="#000" stroke-width="1"/>
<line x1="273.8" y1="401.9" x2="278.2" y2="401.9" stroke="#000" stroke-width="1"/>
<line x1="273.8" y1="406.9" x2="278.2" y2="406.9" stroke="#000" stroke-width="1"/>
<line x1="286.1" y1="384.8" x2="286.1" y2="387.8" stroke="#000" stroke-width="1"/>
<line x1="283.9" y1="384.8" x2="288.3" y2="384.8" stroke="#000" stroke-width="1"/>
<line x1="283.9" y1="387.8" x2="288.3" y2="387.8" stroke="#000" stroke-width="1"/>
<polyline points="234.2,448.3 244.7,441.4 255,431.1 265.9,421 276,404.4 286.1,386.3 296.8,375.8 307.5,372.7" fill="none" stroke="#000" stroke-width="1.3"/>
<circle cx="224.8" cy="453.3" r="3.25" fill="#000"/>
<circle cx="234.2" cy="448.3" r="3.25" fill="#000"/>
<circle cx="244.7" cy="441.4" r="3.25" fill="#000"/>
<circle cx="255" cy="431.1" r="3.25" fill="#000"/>
<circle cx="265.9" cy="421" r="3.25" fill="#000"/>
<circle cx="276" cy="404.4" r="3.25" fill="#000"/>
<circle cx="286.1" cy="386.3" r="3.25" fill="#000"/>
<circle cx="296.8" cy="375.8" r="3.25" fill="#000"/>
<circle cx="307.5" cy="372.7" r="3.25" fill="#000"/>
<text x="226.3" y="484.2" font-size="9.1" text-anchor="middle">0</text>
<text x="246.9" y="483.8" font-size="9.1" text-anchor="middle">10<tspan font-size="6.3" dy="-3.2">-4</tspan></text>
<text x="268.15" y="483.8" font-size="9.1" text-anchor="middle">10<tspan font-size="6.3" dy="-3.2">-2</tspan></text>
<text x="289.4" y="483.8" font-size="9.1" text-anchor="middle">10<tspan font-size="6.3" dy="-3.2">0</tspan></text>
<text x="310.65" y="483.8" font-size="9.1" text-anchor="middle">10<tspan font-size="6.3" dy="-3.2">2</tspan></text>
<text x="272" y="498.2" font-size="9.1" text-anchor="middle">α-GalCer (nmol/L)</text>
<text x="200.2" y="419.7" font-size="9.1" text-anchor="middle" transform="rotate(-90 200.2 419.7)">CD69<tspan font-size="6.2" dy="-3.2">+</tspan><tspan dy="3.2"> cells (%)</tspan></text>
<text x="341.7" y="351.3" font-size="13.2" font-weight="bold" transform="translate(341.7 351.3) scale(0.93 1.1) translate(-341.7 -351.3)">F</text>
<text x="424.5" y="349.2" font-size="9.1" text-anchor="middle">Serum</text>
<line x1="371.2" y1="353.9" x2="474.2" y2="353.9" stroke="#000" stroke-width="1"/>
<text x="499.7" y="349.2" font-size="9.1" text-anchor="middle">β-GlcCer</text>
<line x1="486.6" y1="353.9" x2="510.8" y2="353.9" stroke="#000" stroke-width="1"/>
<text x="367.3" y="394" font-size="8.5" transform="rotate(-60 367.3 394)">Crude</text>
<text x="384.3" y="394" font-size="8.5" transform="rotate(-60 384.3 394)">C:H (1:1)</text>
<text x="398.6" y="394" font-size="8.5" transform="rotate(-60 398.6 394)">C</text>
<text x="412.3" y="394" font-size="8.5" transform="rotate(-60 412.3 394)">C:M (49:1)</text>
<text x="426.4" y="394" font-size="8.5" transform="rotate(-60 426.4 394)">C:M (19:1)</text>
<text x="440.6" y="394" font-size="8.5" transform="rotate(-60 440.6 394)">C:M (9:1)</text>
<text x="454.3" y="394" font-size="8.5" transform="rotate(-60 454.3 394)">C:M (4:1)</text>
<text x="468.6" y="394" font-size="8.5" transform="rotate(-60 468.6 394)">M</text>
<text x="481.3" y="394" font-size="8.5" transform="rotate(-60 481.3 394)">d18:1/16:0</text>
<text x="490.8" y="394" font-size="8.5" transform="rotate(-60 490.8 394)">d18:1/24:1</text>
<rect x="358.3" y="399.9" width="145" height="115.4" fill="#f7f7f6"/>
<rect x="359" y="400.6" width="143.6" height="10.6" fill="#fbfbfb"/>
<line x1="359" y1="411.4" x2="502.8" y2="411.4" stroke="#d6d6d6" stroke-width="0.7"/>
<line x1="359" y1="503.5" x2="502.8" y2="503.5" stroke="#cfcfcf" stroke-width="0.5" stroke-dasharray="1 2.2"/>
<rect x="358.3" y="399.9" width="145" height="115.4" fill="none" stroke="#000" stroke-width="1.3"/>
<polygon points="343.6,410.6 353.2,413.5 343.6,416.4" fill="#000"/>
<polygon points="344.3,501.0 352.6,503.6 344.3,506.2" fill="#fff" stroke="#000" stroke-width="0.9"/>
<defs>
<filter id="b05" x="-100%" y="-100%" width="300%" height="300%"><feGaussianBlur stdDeviation="0.5"/></filter>
<filter id="b1" x="-100%" y="-100%" width="300%" height="300%"><feGaussianBlur stdDeviation="0.8"/></filter>
<filter id="b2" x="-100%" y="-100%" width="300%" height="300%"><feGaussianBlur stdDeviation="1.5"/></filter>
<filter id="b3" x="-100%" y="-100%" width="300%" height="300%"><feGaussianBlur stdDeviation="2.5"/></filter>
</defs>
<ellipse cx="430" cy="414.6" rx="70" ry="1.4" fill="#bdbdbd" opacity="0.45" filter="url(#b1)"/>
<ellipse cx="365.5" cy="414.8" rx="6.6" ry="1.3" fill="#444" opacity="0.9" filter="url(#b05)" transform="rotate(-5 365.5 414.8)"/>
<ellipse cx="364.6" cy="421" rx="5.8" ry="1.9" fill="#2e2e2e" opacity="0.9" filter="url(#b05)" transform="rotate(-8 364.6 421)"/>
<ellipse cx="365.5" cy="479.2" rx="2.4" ry="1.9" fill="#5a4a3c" opacity="0.95" filter="url(#b05)"/>
<ellipse cx="365.5" cy="486.9" rx="2" ry="1.5" fill="#8a7a6a" opacity="0.75" filter="url(#b05)"/>
<ellipse cx="365.5" cy="492.4" rx="1.8" ry="1.1" fill="#7a6a5a" opacity="0.7" filter="url(#b05)"/>
<ellipse cx="382.2" cy="414.8" rx="3.6" ry="1.8" fill="#000" opacity="1" filter="url(#b05)"/>
<ellipse cx="382.5" cy="422" rx="5.4" ry="3.2" fill="#000" opacity="1" filter="url(#b05)"/>
<ellipse cx="396.2" cy="419.5" rx="3.6" ry="3.5" fill="#9a9a9a" opacity="0.45" filter="url(#b2)"/>
<ellipse cx="396.4" cy="423.8" rx="4.4" ry="2.7" fill="#45372b" opacity="0.95" filter="url(#b1)"/>
<ellipse cx="409.8" cy="440" rx="3.2" ry="9" fill="#aaa29a" opacity="0.4" filter="url(#b3)"/>
<ellipse cx="409.8" cy="428" rx="4.6" ry="8" fill="#7a7068" opacity="0.5" filter="url(#b2)"/>
<ellipse cx="409.8" cy="421.4" rx="3.6" ry="1.8" fill="#2a2420" opacity="0.8" filter="url(#b1)"/>
<ellipse cx="409.8" cy="425.4" rx="4.3" ry="2.3" fill="#2a2420" opacity="0.85" filter="url(#b1)"/>
<ellipse cx="409.8" cy="429.8" rx="4.1" ry="2.4" fill="#3a3028" opacity="0.75" filter="url(#b1)"/>
<ellipse cx="409.8" cy="433.4" rx="3.6" ry="2" fill="#5a5048" opacity="0.6" filter="url(#b1)"/>
<ellipse cx="410.2" cy="416.8" rx="2.6" ry="1.3" fill="#3b7a6a" opacity="0.7" filter="url(#b05)"/>
<ellipse cx="423.6" cy="433" rx="2.6" ry="14" fill="#b5ada5" opacity="0.4" filter="url(#b2)"/>
<ellipse cx="423.6" cy="448" rx="3.6" ry="3.4" fill="#8a7c70" opacity="0.65" filter="url(#b1)"/>
<ellipse cx="423.6" cy="445" rx="3.9" ry="1.3" fill="#2e2218" opacity="0.95" filter="url(#b05)"/>
<ellipse cx="437.8" cy="452.5" rx="2.6" ry="4.5" fill="#aaa39c" opacity="0.45" filter="url(#b2)"/>
<ellipse cx="437.8" cy="466" rx="1.6" ry="6" fill="#c8c2bc" opacity="0.35" filter="url(#b2)"/>
<ellipse cx="451.6" cy="463.3" rx="3.2" ry="2.6" fill="#6a5646" opacity="0.9" filter="url(#b05)"/>
<ellipse cx="451.6" cy="473" rx="1.5" ry="6" fill="#c0b8b0" opacity="0.4" filter="url(#b2)"/>
<ellipse cx="466.8" cy="475" rx="1.6" ry="3.5" fill="#c8c8c8" opacity="0.4" filter="url(#b1)"/>
<ellipse cx="466.8" cy="483" rx="3.4" ry="3.8" fill="#111" opacity="1" filter="url(#b05)"/>
<ellipse cx="466.8" cy="489.6" rx="2.8" ry="1.8" fill="#555" opacity="0.8" filter="url(#b05)"/>
<ellipse cx="466.8" cy="492.9" rx="2" ry="1" fill="#666" opacity="0.7" filter="url(#b05)"/>
<ellipse cx="479" cy="443.4" rx="3" ry="0.9" fill="#5a4a3c" opacity="0.75" filter="url(#b05)" transform="rotate(-15 479 443.4)"/>
<ellipse cx="487.6" cy="439" rx="3.2" ry="1" fill="#3a2a1c" opacity="0.85" filter="url(#b05)" transform="rotate(-15 487.6 439)"/>
<text x="0.3" y="534.3" font-size="13.2" font-weight="bold" transform="translate(0.3 534.3) scale(0.93 1.1) translate(-0.3 -534.3)">G</text>
<line x1="39" y1="640" x2="201.9" y2="640" stroke="#000" stroke-width="1.2"/>
<line x1="39" y1="534.6" x2="39" y2="640.5" stroke="#000" stroke-width="1.2"/>
<line x1="39" y1="640" x2="41" y2="640" stroke="#000" stroke-width="1.2"/>
<text x="29.8" y="642.27" font-size="9" text-anchor="end">0</text>
<line x1="39" y1="619.02" x2="41" y2="619.02" stroke="#000" stroke-width="1.2"/>
<text x="29.8" y="621.29" font-size="9" text-anchor="end">20</text>
<line x1="39" y1="598.04" x2="41" y2="598.04" stroke="#000" stroke-width="1.2"/>
<text x="29.8" y="600.31" font-size="9" text-anchor="end">40</text>
<line x1="39" y1="577.06" x2="41" y2="577.06" stroke="#000" stroke-width="1.2"/>
<text x="29.8" y="579.33" font-size="9" text-anchor="end">60</text>
<line x1="39" y1="556.08" x2="41" y2="556.08" stroke="#000" stroke-width="1.2"/>
<text x="29.8" y="558.35" font-size="9" text-anchor="end">80</text>
<line x1="39" y1="535.1" x2="41" y2="535.1" stroke="#000" stroke-width="1.2"/>
<text x="29.8" y="537.37" font-size="9" text-anchor="end">100</text>
<rect x="40.6" y="638.43" width="5.8" height="2.07" fill="#000"/>
<rect x="41.6" y="639.43" width="3.8" height="0.57" fill="#fff"/>
<rect x="46.6" y="638.95" width="7" height="1.55" fill="#000"/>
<text x="49.4" y="648.6" font-size="8.9" text-anchor="end" transform="rotate(-60 49.4 648.6)">None</text>
<rect x="56.8" y="637.06" width="5.8" height="3.44" fill="#000"/>
<rect x="57.8" y="638.06" width="3.8" height="1.94" fill="#fff"/>
<rect x="62.8" y="551.88" width="7" height="88.62" fill="#000"/>
<text x="65.6" y="648.6" font-size="8.9" text-anchor="end" transform="rotate(-60 65.6 648.6)">α-GalCer</text>
<rect x="73" y="639.16" width="5.8" height="1.34" fill="#000"/>
<rect x="79" y="639.37" width="7" height="1.13" fill="#000"/>
<text x="81.8" y="648.6" font-size="8.9" text-anchor="end" transform="rotate(-60 81.8 648.6)">Crude</text>
<rect x="89.2" y="637.69" width="5.8" height="2.81" fill="#000"/>
<rect x="90.2" y="638.69" width="3.8" height="1.31" fill="#fff"/>
<rect x="95.2" y="637.9" width="7" height="2.6" fill="#000"/>
<text x="98" y="648.6" font-size="8.9" text-anchor="end" transform="rotate(-60 98 648.6)">C:H (1:1)</text>
<rect x="105.4" y="639.48" width="5.8" height="1.02" fill="#000"/>
<rect x="111.4" y="639.58" width="7" height="0.92" fill="#000"/>
<text x="114.2" y="648.6" font-size="8.9" text-anchor="end" transform="rotate(-60 114.2 648.6)">C</text>
<rect x="121.6" y="636.01" width="5.8" height="4.49" fill="#000"/>
<rect x="122.6" y="637.01" width="3.8" height="2.99" fill="#fff"/>
<rect x="127.6" y="639.37" width="7" height="1.13" fill="#000"/>
<text x="130.4" y="648.6" font-size="8.9" text-anchor="end" transform="rotate(-60 130.4 648.6)">C:M (49:1)</text>
<rect x="137.8" y="637.69" width="5.8" height="2.81" fill="#000"/>
<rect x="138.8" y="638.69" width="3.8" height="1.31" fill="#fff"/>
<rect x="143.8" y="594.89" width="7" height="45.61" fill="#000"/>
<text x="146.6" y="648.6" font-size="8.9" text-anchor="end" transform="rotate(-60 146.6 648.6)">C:M (19:1)</text>
<rect x="154" y="637.38" width="5.8" height="3.12" fill="#000"/>
<rect x="155" y="638.38" width="3.8" height="1.62" fill="#fff"/>
<rect x="160" y="638.74" width="7" height="1.76" fill="#000"/>
<text x="162.8" y="648.6" font-size="8.9" text-anchor="end" transform="rotate(-60 162.8 648.6)">C:M (9:1)</text>
<rect x="170.2" y="635.28" width="5.8" height="5.22" fill="#000"/>
<rect x="171.2" y="636.28" width="3.8" height="3.72" fill="#fff"/>
<rect x="176.2" y="637.9" width="7" height="2.6" fill="#000"/>
<text x="179" y="648.6" font-size="8.9" text-anchor="end" transform="rotate(-60 179 648.6)">C:M (4:1)</text>
<rect x="186.4" y="637.38" width="5.8" height="3.12" fill="#000"/>
<rect x="187.4" y="638.38" width="3.8" height="1.62" fill="#fff"/>
<rect x="192.4" y="638.74" width="7" height="1.76" fill="#000"/>
<text x="195.2" y="648.6" font-size="8.9" text-anchor="end" transform="rotate(-60 195.2 648.6)">M</text>
<line x1="66.3" y1="550" x2="66.3" y2="551.88" stroke="#000" stroke-width="1"/>
<line x1="63.7" y1="550" x2="68.9" y2="550" stroke="#000" stroke-width="1"/>
<line x1="163.5" y1="631.61" x2="163.5" y2="638.95" stroke="#000" stroke-width="1"/>
<line x1="161.1" y1="631.61" x2="165.9" y2="631.61" stroke="#000" stroke-width="1"/>
<line x1="67.5" y1="688.7" x2="198.3" y2="688.7" stroke="#000" stroke-width="1.2"/>
<text x="133.3" y="704.2" font-size="9.1" text-anchor="middle">Serum</text>
<rect x="95.2" y="538.6" width="7" height="7" fill="#000"/>
<rect x="96.4" y="539.8" width="4.6" height="4.6" fill="#fff"/>
<text x="106.2" y="545.5" font-size="9.1">CD1d<tspan font-size="4.9" dy="-3.6">–/–</tspan><tspan dy="3.6"> </tspan></text>
<rect x="95.2" y="549.3" width="7" height="7" fill="#000"/>
<text x="106.2" y="556.2" font-size="9.1">CD1d-transfected</text>
<text x="13.8" y="596.8" font-size="9.1" text-anchor="middle" transform="rotate(-90 13.8 596.8)">CD69<tspan font-size="6.2" dy="-3.2">+</tspan><tspan dy="3.2"> cells (%)</tspan></text>
<text x="217.8" y="534.2" font-size="13.2" font-weight="bold" transform="translate(217.8 534.2) scale(0.93 1.1) translate(-217.8 -534.2)">H</text>
<line x1="247.5" y1="662.8" x2="297.5" y2="662.8" stroke="#000" stroke-width="1.2"/>
<line x1="247.5" y1="551.9" x2="247.5" y2="663.3" stroke="#000" stroke-width="1.2"/>
<line x1="247.5" y1="662.8" x2="249.5" y2="662.8" stroke="#000" stroke-width="1.2"/>
<text x="241.1" y="665.07" font-size="9" text-anchor="end">0</text>
<line x1="247.5" y1="640.72" x2="249.5" y2="640.72" stroke="#000" stroke-width="1.2"/>
<text x="241.1" y="642.99" font-size="9" text-anchor="end">20</text>
<line x1="247.5" y1="618.64" x2="249.5" y2="618.64" stroke="#000" stroke-width="1.2"/>
<text x="241.1" y="620.91" font-size="9" text-anchor="end">40</text>
<line x1="247.5" y1="596.56" x2="249.5" y2="596.56" stroke="#000" stroke-width="1.2"/>
<text x="241.1" y="598.83" font-size="9" text-anchor="end">60</text>
<line x1="247.5" y1="574.48" x2="249.5" y2="574.48" stroke="#000" stroke-width="1.2"/>
<text x="241.1" y="576.75" font-size="9" text-anchor="end">80</text>
<line x1="247.5" y1="552.4" x2="249.5" y2="552.4" stroke="#000" stroke-width="1.2"/>
<text x="241.1" y="554.67" font-size="9" text-anchor="end">100</text>
<rect x="249.3" y="657.28" width="9.5" height="6.02" fill="#000"/>
<line x1="254.05" y1="656.62" x2="254.05" y2="657.28" stroke="#000" stroke-width="1"/>
<line x1="251.05" y1="656.62" x2="257.05" y2="656.62" stroke="#000" stroke-width="1"/>
<text x="257.25" y="672" font-size="8.9" text-anchor="end" transform="rotate(-60 257.25 672)">None</text>
<rect x="262" y="562.89" width="9.5" height="100.41" fill="#000"/>
<line x1="266.75" y1="561.78" x2="266.75" y2="562.89" stroke="#000" stroke-width="1"/>
<line x1="263.75" y1="561.78" x2="269.75" y2="561.78" stroke="#000" stroke-width="1"/>
<text x="269.95" y="672" font-size="8.9" text-anchor="end" transform="rotate(-60 269.95 672)">α-GalCer</text>
<rect x="273.4" y="620.85" width="9.5" height="42.45" fill="#000"/>
<line x1="278.15" y1="619.19" x2="278.15" y2="620.85" stroke="#000" stroke-width="1"/>
<line x1="275.15" y1="619.19" x2="281.15" y2="619.19" stroke="#000" stroke-width="1"/>
<text x="280.15" y="672" font-size="8.9" text-anchor="end" transform="rotate(-60 280.15 672)">–</text>
<rect x="285.7" y="566.75" width="9.5" height="96.55" fill="#000"/>
<text x="293.65" y="672" font-size="8.9" text-anchor="end" transform="rotate(-60 293.65 672)">NaOH</text>
<line x1="266.3" y1="695.8" x2="300.1" y2="695.8" stroke="#000" stroke-width="1.3"/>
<text x="283.7" y="709.4" font-size="9.1" text-anchor="middle">C:M (19:1)</text>
<text x="223.8" y="609" font-size="9.1" text-anchor="middle" transform="rotate(-90 223.8 609)">CD69<tspan font-size="6.2" dy="-3.2">+</tspan><tspan dy="3.2"> cells (%)</tspan></text>
<text x="319.7" y="534.2" font-size="13.2" font-weight="bold" transform="translate(319.7 534.2) scale(0.93 1.1) translate(-319.7 -534.2)">I</text>
<line x1="353.4" y1="663.6" x2="417" y2="663.6" stroke="#000" stroke-width="1.2"/>
<line x1="353.4" y1="550.1" x2="353.4" y2="664.1" stroke="#000" stroke-width="1.2"/>
<line x1="353.4" y1="663.6" x2="355.4" y2="663.6" stroke="#000" stroke-width="1.2"/>
<text x="346.2" y="665.87" font-size="9" text-anchor="end">0</text>
<line x1="353.4" y1="641" x2="355.4" y2="641" stroke="#000" stroke-width="1.2"/>
<text x="346.2" y="643.27" font-size="9" text-anchor="end">20</text>
<line x1="353.4" y1="618.4" x2="355.4" y2="618.4" stroke="#000" stroke-width="1.2"/>
<text x="346.2" y="620.67" font-size="9" text-anchor="end">40</text>
<line x1="353.4" y1="595.8" x2="355.4" y2="595.8" stroke="#000" stroke-width="1.2"/>
<text x="346.2" y="598.07" font-size="9" text-anchor="end">60</text>
<line x1="353.4" y1="573.2" x2="355.4" y2="573.2" stroke="#000" stroke-width="1.2"/>
<text x="346.2" y="575.47" font-size="9" text-anchor="end">80</text>
<line x1="353.4" y1="550.6" x2="355.4" y2="550.6" stroke="#000" stroke-width="1.2"/>
<text x="346.2" y="552.87" font-size="9" text-anchor="end">100</text>
<rect x="354.1" y="659.08" width="9.5" height="5.02" fill="#000"/>
<line x1="358.85" y1="658.51" x2="358.85" y2="659.08" stroke="#000" stroke-width="1"/>
<line x1="355.85" y1="658.51" x2="361.85" y2="658.51" stroke="#000" stroke-width="1"/>
<text x="362.05" y="671.9" font-size="8.9" text-anchor="end" transform="rotate(-60 362.05 671.9)">None</text>
<rect x="366.6" y="559.64" width="9.5" height="104.46" fill="#000"/>
<line x1="371.35" y1="558.51" x2="371.35" y2="559.64" stroke="#000" stroke-width="1"/>
<line x1="368.35" y1="558.51" x2="374.35" y2="558.51" stroke="#000" stroke-width="1"/>
<text x="374.55" y="671.9" font-size="8.9" text-anchor="end" transform="rotate(-60 374.55 671.9)">α-GalCer</text>
<rect x="379.2" y="659.08" width="9.5" height="5.02" fill="#000"/>
<line x1="383.95" y1="658.51" x2="383.95" y2="659.08" stroke="#000" stroke-width="1"/>
<line x1="380.95" y1="658.51" x2="386.95" y2="658.51" stroke="#000" stroke-width="1"/>
<text x="387.15" y="671.9" font-size="8.9" text-anchor="end" transform="rotate(-60 387.15 671.9)">Buffer</text>
<rect x="392" y="594.11" width="9.5" height="69.99" fill="#000"/>
<line x1="396.75" y1="590.72" x2="396.75" y2="594.11" stroke="#000" stroke-width="1"/>
<line x1="393.75" y1="590.72" x2="399.75" y2="590.72" stroke="#000" stroke-width="1"/>
<text x="398.45" y="671.9" font-size="8.9" text-anchor="end" transform="rotate(-60 398.45 671.9)">–</text>
<rect x="404.5" y="595.24" width="9.5" height="68.86" fill="#000"/>
<line x1="409.25" y1="592.41" x2="409.25" y2="595.24" stroke="#000" stroke-width="1"/>
<line x1="406.25" y1="592.41" x2="412.25" y2="592.41" stroke="#000" stroke-width="1"/>
<text x="412.45" y="671.9" font-size="8.9" text-anchor="end" transform="rotate(-60 412.45 671.9)">Gba</text>
<line x1="384" y1="695.6" x2="417.7" y2="695.6" stroke="#000" stroke-width="1.3"/>
<text x="401.8" y="709.4" font-size="9.1" text-anchor="middle">C:M (19:1)</text>
<line x1="444.8" y1="663.6" x2="510.6" y2="663.6" stroke="#000" stroke-width="1.2"/>
<line x1="444.8" y1="550.1" x2="444.8" y2="664.1" stroke="#000" stroke-width="1.2"/>
<line x1="444.8" y1="663.6" x2="446.8" y2="663.6" stroke="#000" stroke-width="1.2"/>
<text x="437.4" y="665.87" font-size="9" text-anchor="end">0</text>
<line x1="444.8" y1="641" x2="446.8" y2="641" stroke="#000" stroke-width="1.2"/>
<text x="437.4" y="643.27" font-size="9" text-anchor="end">20</text>
<line x1="444.8" y1="618.4" x2="446.8" y2="618.4" stroke="#000" stroke-width="1.2"/>
<text x="437.4" y="620.67" font-size="9" text-anchor="end">40</text>
<line x1="444.8" y1="595.8" x2="446.8" y2="595.8" stroke="#000" stroke-width="1.2"/>
<text x="437.4" y="598.07" font-size="9" text-anchor="end">60</text>
<line x1="444.8" y1="573.2" x2="446.8" y2="573.2" stroke="#000" stroke-width="1.2"/>
<text x="437.4" y="575.47" font-size="9" text-anchor="end">80</text>
<line x1="444.8" y1="550.6" x2="446.8" y2="550.6" stroke="#000" stroke-width="1.2"/>
<text x="437.4" y="552.87" font-size="9" text-anchor="end">100</text>
<rect x="446.2" y="659.08" width="9.5" height="5.02" fill="#000"/>
<line x1="450.95" y1="658.51" x2="450.95" y2="659.08" stroke="#000" stroke-width="1"/>
<line x1="447.95" y1="658.51" x2="453.95" y2="658.51" stroke="#000" stroke-width="1"/>
<text x="454.15" y="671.9" font-size="8.9" text-anchor="end" transform="rotate(-60 454.15 671.9)">None</text>
<rect x="458.6" y="558.17" width="9.5" height="105.93" fill="#000"/>
<line x1="463.35" y1="557.04" x2="463.35" y2="558.17" stroke="#000" stroke-width="1"/>
<line x1="460.35" y1="557.04" x2="466.35" y2="557.04" stroke="#000" stroke-width="1"/>
<text x="466.55" y="671.9" font-size="8.9" text-anchor="end" transform="rotate(-60 466.55 671.9)">α-GalCer</text>
<rect x="472" y="659.08" width="9.5" height="5.02" fill="#000"/>
<line x1="476.75" y1="658.51" x2="476.75" y2="659.08" stroke="#000" stroke-width="1"/>
<line x1="473.75" y1="658.51" x2="479.75" y2="658.51" stroke="#000" stroke-width="1"/>
<text x="479.95" y="671.9" font-size="8.9" text-anchor="end" transform="rotate(-60 479.95 671.9)">Buffer</text>
<rect x="484.6" y="596.25" width="9.5" height="67.85" fill="#000"/>
<line x1="489.35" y1="592.86" x2="489.35" y2="596.25" stroke="#000" stroke-width="1"/>
<line x1="486.35" y1="592.86" x2="492.35" y2="592.86" stroke="#000" stroke-width="1"/>
<text x="491.05" y="671.9" font-size="8.9" text-anchor="end" transform="rotate(-60 491.05 671.9)">–</text>
<rect x="497.7" y="596.25" width="9.5" height="67.85" fill="#000"/>
<line x1="502.45" y1="593.43" x2="502.45" y2="596.25" stroke="#000" stroke-width="1"/>
<line x1="499.45" y1="593.43" x2="505.45" y2="593.43" stroke="#000" stroke-width="1"/>
<text x="505.65" y="671.9" font-size="8.9" text-anchor="end" transform="rotate(-60 505.65 671.9)">Galc</text>
<line x1="477.7" y1="695.6" x2="510.9" y2="695.6" stroke="#000" stroke-width="1.3"/>
<text x="495" y="709.4" font-size="9.1" text-anchor="middle">C:M (19:1)</text>
<text x="329" y="607.9" font-size="9.1" text-anchor="middle" transform="rotate(-90 329 607.9)">CD69<tspan font-size="6.2" dy="-3.2">+</tspan><tspan dy="3.2"> cells (%)</tspan></text>
</svg>
</body></html>
